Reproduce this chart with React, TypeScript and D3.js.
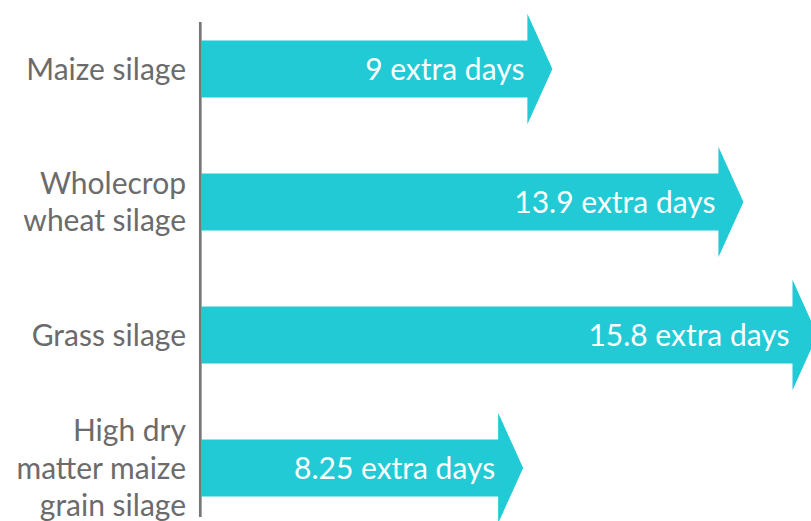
import React from "react";
import * as d3 from "d3";

const categories: string[][] = [
  ["Maize silage"],
  ["Wholecrop", "wheat silage"],
  ["Grass silage"],
  ["High dry", "matter maize", "grain silage"],
];
const values: number[] = [9, 13.9, 15.8, 8.25];
const valueLabels: string[] = ["9 extra days", "13.9 extra days", "15.8 extra days", "8.25 extra days"];

const W = 811;
const H = 521;
const TEAL = "#21cad4";

export default function App() {
  const keys = categories.map((c) => c.join(" "));
  const x = d3.scaleLinear().domain([0, 15.8]).range([201.5, 817.5]);
  const y = d3.scalePoint<string>().domain(keys).range([69, 468]);
  const bodyH = 57;
  const headH = 110.5;
  const headL = 25;
  const lineH = 37.2;

  const arrow = (v: number, cy: number) => {
    const tip = x(v);
    const base = tip - headL;
    const p = d3.path();
    p.moveTo(x(0), cy - bodyH / 2);
    p.lineTo(base, cy - bodyH / 2);
    p.lineTo(base, cy - headH / 2);
    p.lineTo(tip, cy);
    p.lineTo(base, cy + headH / 2);
    p.lineTo(base, cy + bodyH / 2);
    p.lineTo(x(0), cy + bodyH / 2);
    p.closePath();
    return p.toString();
  };

  return (
    <svg
      width={W}
      height={H}
      style={{ position: "absolute", left: 0, top: 0, display: "block" }}
    >
      {keys.map((k, i) => {
        const cy = y(k)!;
        const base = x(values[i]) - headL;
        const lines = categories[i];
        return (
          <g key={k}>
            <path d={arrow(values[i], cy)} fill={TEAL} />
            <text
              x={base - 3}
              y={cy + 11}
              textAnchor="end"
              fill="#ffffff"
              fontFamily="Lato"
              fontSize={30}
            >
              {valueLabels[i]}
            </text>
            <text textAnchor="end" fill="#6b6b6b" fontFamily="Lato" fontSize={30}>
              {lines.map((ln, j) => (
                <tspan key={j} x={186} y={cy + 10.5 + (j - (lines.length - 1) / 2) * lineH}>
                  {ln}
                </tspan>
              ))}
            </text>
          </g>
        );
      })}
      <line x1={200.3} x2={200.3} y1={22} y2={517} stroke="#777" strokeWidth={2.7} />
    </svg>
  );
}
